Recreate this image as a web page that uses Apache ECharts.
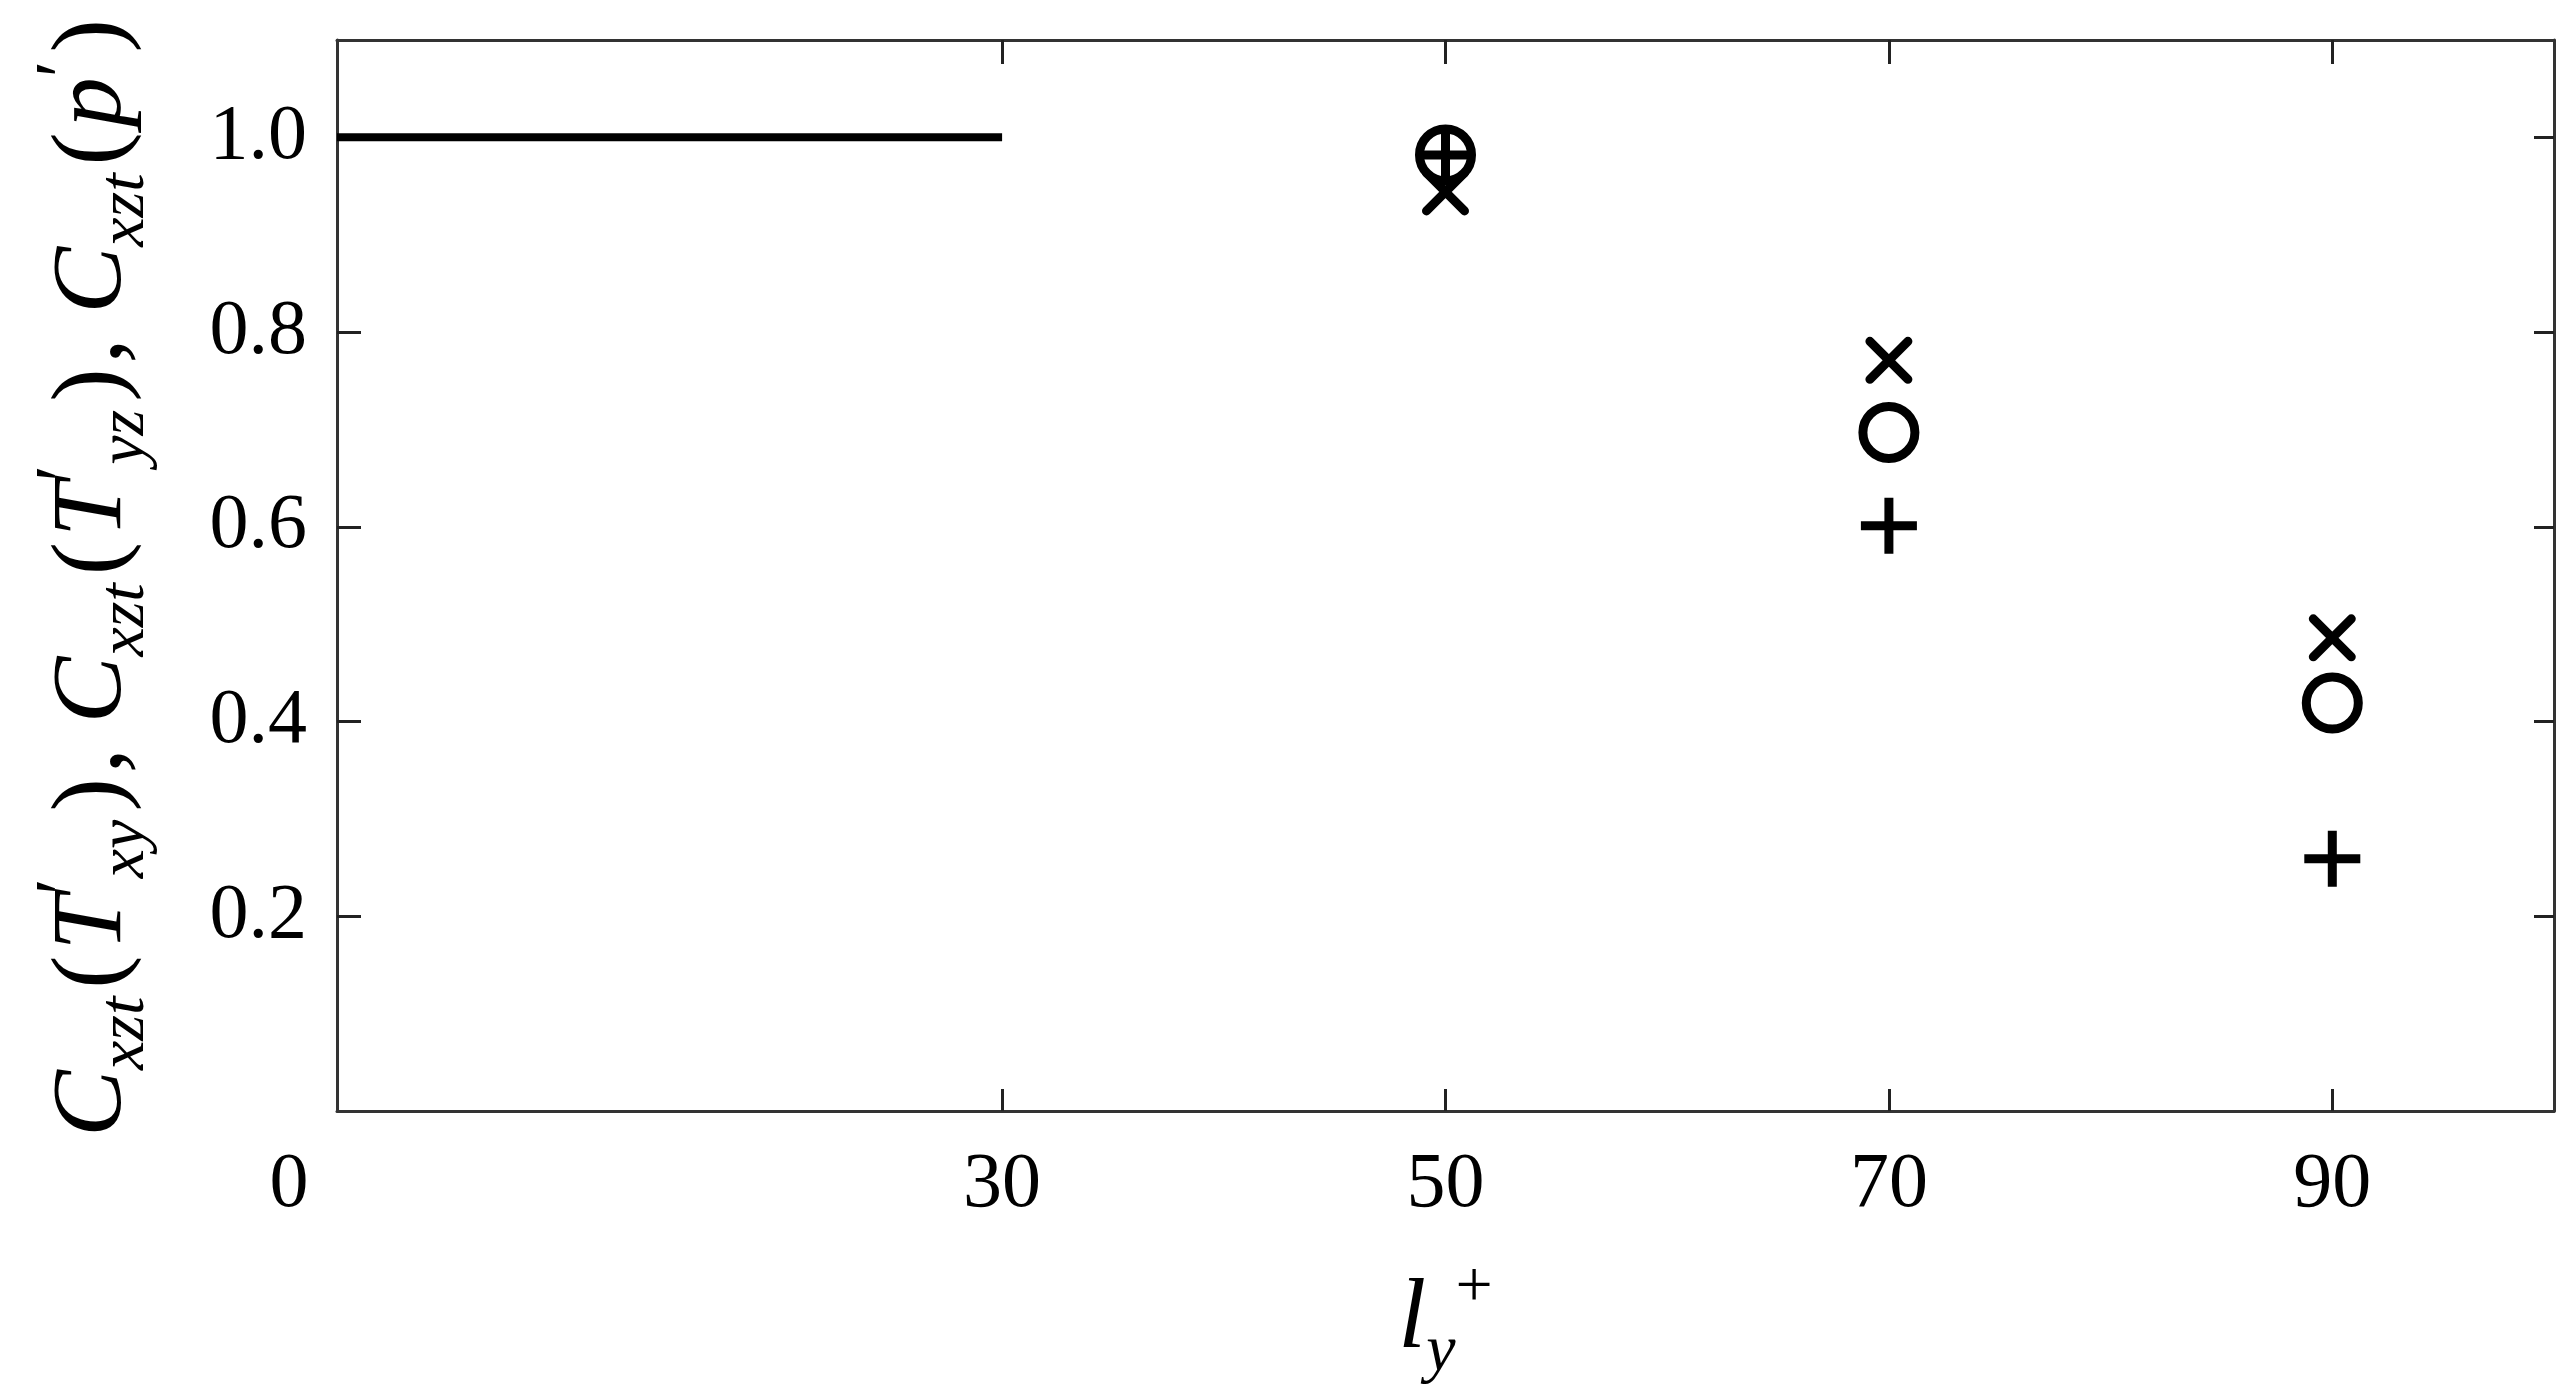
<!DOCTYPE html>
<html>
<head>
<meta charset="utf-8">
<title>chart</title>
<script src="https://cdn.jsdelivr.net/npm/echarts@6/dist/echarts.min.js"></script>
<style>
  html, body { margin: 0; padding: 0; background: #fff; }
  #myChart { width: 2559px; height: 1398px; }
</style>
</head>
<body>
<div id="myChart"></div>
<script>
// 横坐标 l_y^+
let lyPlus = [50, 70, 90];
// 三组相关系数 (+, 圆, ×)
let plusVals = [0.982, 0.601, 0.259];
let circleVals = [0.982, 0.697, 0.419];
let crossVals = [0.944, 0.771, 0.486];
// l_y^+ <= 30 的参考线
let refLineX = [0, 30];
let refLineY = [1.0, 1.0];
// 刻度
let xTickVals = [30, 50, 70, 90];
let xLabelVals = [0, 30, 50, 70, 90];
let yTickVals = [0.2, 0.4, 0.6, 0.8, 1.0];

const FONT = "'Liberation Serif', 'Times New Roman', serif";

function pairs(xs, ys) {
  let out = [];
  for (let i = 0; i < xs.length; i++) {
    out.push([xs[i], ys[i]]);
  }
  return out;
}

let myChart = echarts.init(document.getElementById("myChart"), null, { renderer: "canvas" });

let axisLineStyle = { color: "#333", width: 3 };
let tickStyle = { color: "#222", width: 3 };

// 上标/下标用的 rich 样式
let nameRich = {
  c: { fontFamily: FONT, fontStyle: "italic", fontSize: 100, lineHeight: 130, verticalAlign: "middle", color: "#000" },
  s: { fontFamily: FONT, fontStyle: "italic", fontSize: 66, lineHeight: 66, verticalAlign: "bottom", color: "#000" },
  q: { fontFamily: FONT, fontSize: 76, lineHeight: 76, verticalAlign: "top", color: "#000" },
  p: { fontFamily: FONT, fontSize: 100, lineHeight: 130, verticalAlign: "middle", color: "#000", padding: [0, 5, 0, 8] },
  g: { fontFamily: FONT, fontSize: 100, lineHeight: 130, verticalAlign: "middle", color: "#000" },
  u: { fontFamily: FONT, fontSize: 66, lineHeight: 66, verticalAlign: "top", color: "#000" },
};

let yName =
  "{c|C}{s|xzt}{p|(}{c|T}{q|′}{s|xy}{p|)}{g|, }" +
  "{c|C}{s|xzt}{p|(}{c|T}{q|′}{s|yz}{p|)}{g|, }" +
  "{c|C}{s|xzt}{p|(}{c|p}{q|′}{p|)}";

let xName = "{c|l}{s|y}{u|+}";

myChart.setOption({
  animation: false,
  backgroundColor: "#fff",
  grid: {
    left: 337,
    right: 5,
    top: 40,
    bottom: 287,
    containLabel: false,
    outerBoundsMode: "none",
  },
  xAxis: [
    {
      type: "value",
      min: 0,
      max: 100,
      name: xName,
      nameLocation: "middle",
      nameGap: 145,
      nameTextStyle: { rich: nameRich },
      axisLine: { onZero: false, lineStyle: axisLineStyle },
      axisTick: { inside: true, length: 22, customValues: xTickVals, lineStyle: tickStyle },
      splitLine: { show: false },
      axisLabel: {
        customValues: xLabelVals,
        margin: 36,
        fontFamily: FONT,
        fontSize: 78,
        color: "#000",
        formatter: function (v) {
          // 原点的 0 放在坐标轴左侧
          return v === 0 ? "{o|0}" : String(v);
        },
        rich: {
          o: { fontFamily: FONT, fontSize: 78, color: "#000", padding: [0, 96, 0, 0] },
        },
      },
    },
    {
      type: "value",
      position: "top",
      min: 0,
      max: 100,
      axisLine: { onZero: false, lineStyle: axisLineStyle },
      axisTick: { inside: true, length: 24, customValues: xTickVals, lineStyle: tickStyle },
      axisLabel: { show: false },
      splitLine: { show: false },
    },
  ],
  yAxis: [
    {
      type: "value",
      min: 0,
      max: 1.1,
      interval: 0.2,
      name: yName,
      nameLocation: "middle",
      nameRotate: 90,
      nameGap: 178,
      nameTextStyle: { rich: nameRich },
      axisLine: { onZero: false, lineStyle: axisLineStyle },
      axisTick: { inside: true, length: 24, customValues: yTickVals, lineStyle: tickStyle },
      splitLine: { show: false },
      axisLabel: {
        customValues: yTickVals,
        margin: 30,
        fontFamily: FONT,
        fontSize: 78,
        color: "#000",
        formatter: function (v) {
          return v.toFixed(1);
        },
      },
    },
    {
      type: "value",
      position: "right",
      min: 0,
      max: 1.1,
      interval: 0.2,
      axisLine: { onZero: false, lineStyle: axisLineStyle },
      axisTick: { inside: true, length: 20, customValues: yTickVals, lineStyle: tickStyle },
      axisLabel: { show: false },
      splitLine: { show: false },
    },
  ],
  series: [
    {
      type: "line",
      data: pairs(refLineX, refLineY),
      symbol: "none",
      lineStyle: { color: "#000", width: 8 },
      z: 2,
    },
    {
      // ×
      type: "scatter",
      data: pairs(lyPlus, crossVals),
      symbol: "path://M-10,-10L10,10M-10,10L10,-10",
      symbolSize: 38,
      itemStyle: { color: "transparent", borderColor: "#000", borderWidth: 9, borderCap: "round", opacity: 1 },
      z: 3,
    },
    {
      // 圆
      type: "scatter",
      data: pairs(lyPlus, circleVals),
      symbol: "circle",
      symbolSize: 52,
      itemStyle: { color: "#fff", borderColor: "#000", borderWidth: 9, opacity: 1 },
      z: 4,
    },
    {
      // +
      type: "scatter",
      data: pairs(lyPlus, plusVals),
      symbol: "path://M0,-10L0,10M-10,0L10,0",
      symbolSize: 56,
      itemStyle: { color: "transparent", borderColor: "#000", borderWidth: 9, opacity: 1 },
      z: 5,
    },
  ],
});
</script>
</body>
</html>
